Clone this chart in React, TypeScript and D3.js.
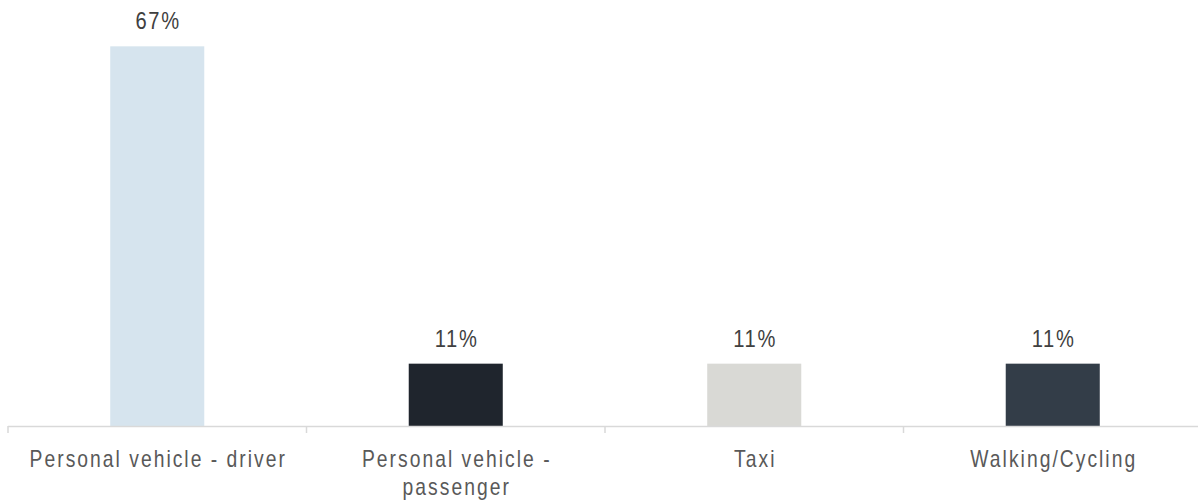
import React, { useEffect, useRef } from "react";
import * as d3 from "d3";

const categories = [
  "Personal vehicle - driver",
  "Personal vehicle - passenger",
  "Taxi",
  "Walking/Cycling",
];
const values = [67, 11, 11, 11];
const valueLabels = ["67%", "11%", "11%", "11%"];
const barColors = ["#d6e4ee", "#1f252d", "#d9d9d5", "#333d48"];

const W = 1198;
const H = 503;

export default function App() {
  const ref = useRef<SVGSVGElement | null>(null);

  useEffect(() => {
    const svg = d3.select(ref.current);
    svg.selectAll("*").remove();

    const x0 = 8;
    const x1 = 1202;
    const baseY = 426;

    const outer = d3.scaleBand<string>().domain(categories).range([x0, x1]).padding(0);
    const bars = d3
      .scaleBand<string>()
      .domain(categories)
      .range([x0, x1])
      .paddingInner(0.685)
      .paddingOuter(0.3425);
    const y = d3.scaleLinear().domain([0, 75]).range([baseY, 1]);

    const font = "'Liberation Sans', Arial, sans-serif";
    const sx = 0.84;
    const ls = 2.4;

    // bars
    svg
      .append("g")
      .selectAll("rect")
      .data(categories)
      .join("rect")
      .attr("x", (d) => bars(d)!)
      .attr("width", bars.bandwidth())
      .attr("y", (d, i) => y(values[i]))
      .attr("height", (d, i) => baseY - y(values[i]))
      .attr("fill", (d, i) => barColors[i]);

    // value labels
    svg
      .append("g")
      .selectAll("text")
      .data(categories)
      .join("text")
      .attr(
        "transform",
        (d, i) =>
          `translate(${bars(d)! + bars.bandwidth() / 2},${y(values[i]) - 17}) scale(${sx},1)`
      )
      .attr("x", 1)
      .attr("text-anchor", "middle")
      .attr("font-family", font)
      .attr("font-size", 24)
      .attr("letter-spacing", 2)
      .attr("fill", "#404040")
      .text((d, i) => valueLabels[i]);

    // axis line
    const axisG = svg.append("g");
    axisG
      .append("line")
      .attr("x1", x0)
      .attr("x2", x1)
      .attr("y1", baseY + 0.5)
      .attr("y2", baseY + 0.5)
      .attr("stroke", "#d9d9d9")
      .attr("stroke-width", 1.5);

    const tickXs = categories.map((c) => outer(c)!).concat([x1]);
    axisG
      .selectAll("line.tick")
      .data(tickXs)
      .join("line")
      .attr("class", "tick")
      .attr("x1", (d) => d)
      .attr("x2", (d) => d)
      .attr("y1", baseY)
      .attr("y2", baseY + 7)
      .attr("stroke", "#d9d9d9")
      .attr("stroke-width", 1.5);

    // category labels with wrapping
    const labelY = 467;
    const lineH = 28;
    const labels = axisG
      .selectAll("text.cat")
      .data(categories)
      .join("text")
      .attr("class", "cat")
      .attr(
        "transform",
        (d) => `translate(${outer(d)! + outer.bandwidth() / 2},${labelY}) scale(${sx},1)`
      )
      .attr("text-anchor", "middle")
      .attr("font-family", font)
      .attr("font-size", 23)
      .attr("letter-spacing", ls)
      .attr("fill", "#595959");

    const maxW = (outer.bandwidth() - 12) / sx;
    labels.each(function (d) {
      const text = d3.select(this);
      const cx = ls / 2;
      const words = d.split(/\s+/);
      let line: string[] = [];
      let lineNo = 0;
      let tspan = text.append("tspan").attr("x", cx).attr("y", 0);
      for (const w of words) {
        line.push(w);
        tspan.text(line.join(" "));
        if ((tspan.node() as SVGTSpanElement).getComputedTextLength() > maxW && line.length > 1) {
          line.pop();
          tspan.text(line.join(" "));
          line = [w];
          lineNo++;
          tspan = text
            .append("tspan")
            .attr("x", cx)
            .attr("y", lineNo * lineH)
            .text(w);
        }
      }
    });
  }, []);

  return (
    <svg
      ref={ref}
      width={W}
      height={H}
      style={{ position: "absolute", left: 0, top: 0, background: "#fff" }}
    />
  );
}
